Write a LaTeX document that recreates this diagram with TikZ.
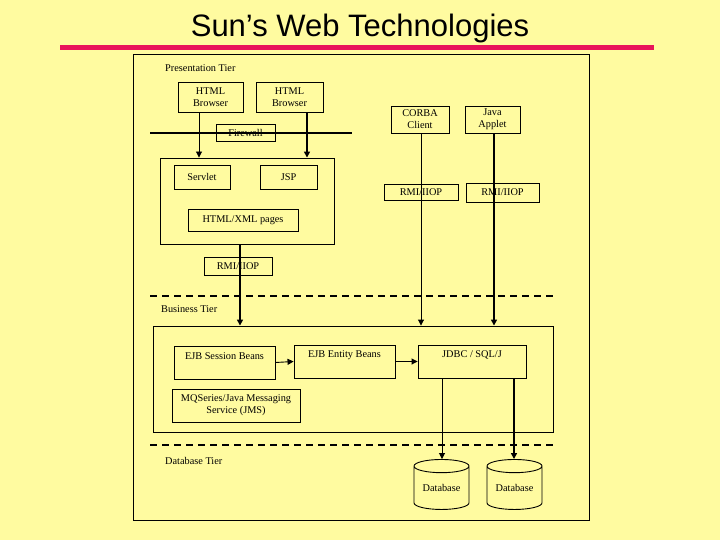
\documentclass[tikz,border=0pt]{standalone}
\usepackage{fontspec}
\setmainfont{Liberation Serif}
\newfontfamily\titlefont{Liberation Sans}
\usetikzlibrary{arrows.meta,shapes.geometric}
\definecolor{bgyellow}{RGB}{255,251,160}
\definecolor{titlered}{RGB}{232,20,90}
\tikzset{
  txt/.style={font=\fontsize{10.3}{12}\selectfont},
  box/.style={draw, line width=0.9pt, inner sep=0pt, align=center, txt},
  lbl/.style={txt, anchor=west, inner sep=0pt},
  toplbl/.style={anchor=north, inner sep=0pt, yshift=-6pt, txt},
  thinarrow/.style={line width=0.9pt, -{Triangle[length=6pt,width=6pt]}},
  thickarrow/.style={line width=1.8pt, -{Triangle[length=6pt,width=6pt]}},
  tierline/.style={line width=1.8pt, dash pattern=on 7pt off 5pt},
  dbcyl/.style={cylinder, shape border rotate=90, draw, line width=0.9pt, aspect=0.35,
    minimum width=55pt, minimum height=50pt, inner sep=0pt, txt}
}
\begin{document}
\begin{tikzpicture}[x=1pt,y=-1pt]
\fill[bgyellow] (0,0) rectangle (720,540);
\useasboundingbox (0,0) rectangle (720,540);
% title
\node (title) [font=\titlefont\fontsize{31}{34}\selectfont] at (360,28) {Sun’s Web Technologies};
\fill[titlered] (60,45) rectangle (654,50);
% outer frame
\draw[line width=0.9pt] (133,54) rectangle (589,520);
% tier labels
\node[lbl] (pt) at (165,68) {Presentation Tier};
\node[lbl] (bt) at (161,309) {Business Tier};
\node[lbl] (dt) at (165,461) {Database Tier};
% presentation tier
\node[box, minimum width=65pt, minimum height=30pt] (b1) at (210.5,97) {HTML\\Browser};
\node[box, minimum width=67pt, minimum height=30pt] (b2) at (289.5,97) {HTML\\Browser};
\node[box, minimum width=59pt, minimum height=17pt] (fw) at (245.5,132.5) {Firewall};
\draw[line width=2.2pt] (150,133) coordinate (fwl) -- (352,133) coordinate (fwr);
\node[box, minimum width=174pt, minimum height=86pt] (big) at (247,201) {};
\node[box, minimum width=56pt, minimum height=24pt] (servlet) at (202,177) {Servlet};
\node[box, minimum width=57pt, minimum height=24pt] (jsp) at (288.5,177) {JSP};
\node[box, minimum width=110pt, minimum height=22pt] (html) at (243,220) {HTML/XML pages};
\node[box, minimum width=68pt, minimum height=18pt] (rmi1) at (238,266) {RMI/IIOP};
\node[box, minimum width=58pt, minimum height=27pt] (corba) at (420,119.5) {CORBA\\Client};
\node[box, minimum width=55pt, minimum height=27pt] (applet) at (492.5,119.5) {Java\\Applet};
\node[box, minimum width=74pt, minimum height=16pt] (rmi2) at (421,192) {RMI/IIOP};
\node[box, minimum width=73pt, minimum height=19pt] (rmi3) at (502.5,192.5) {RMI/IIOP};
% tier separators
\draw[tierline] (150,296) coordinate (s1l) -- (557,296) coordinate (s1r);
\draw[tierline] (150,445) coordinate (s2l) -- (557,445) coordinate (s2r);
% business tier
\node[box, minimum width=400pt, minimum height=106pt] (biz) at (353,379) {};
\node[box, minimum width=101pt, minimum height=33pt,
  label={[toplbl, yshift=-1pt]north:EJB Session Beans}] (sess) at (224.5,362.5) {};
\node[box, minimum width=101pt, minimum height=33pt,
  label={[toplbl]north:EJB Entity Beans}] (ent) at (344.5,361.5) {};
\node[box, minimum width=108pt, minimum height=33pt,
  label={[toplbl]north:JDBC / SQL/J}] (jdbc) at (472,361.5) {};
\node[box, minimum width=128pt, minimum height=33pt] (mq) at (236,405.5) {MQSeries/Java Messaging\\Service (JMS)};
% database tier
\node[dbcyl] (db1) at (441.5,488) {Database};
\node[dbcyl] (db2) at (514.5,488) {Database};
% connectors
\coordinate (x199) at (199,0);
\coordinate (x307) at (307,0);
\coordinate (x240) at (240,0);
\coordinate (x421) at (421,0);
\coordinate (x494) at (494,0);
\coordinate (x442) at (442,0);
\coordinate (x514) at (514,0);
\draw[thinarrow] (b1.south -| x199) -- (big.north -| x199);
\draw[thickarrow] (b2.south -| x307) -- (big.north -| x307);
\draw[thickarrow] (big.south -| x240) -- (biz.north -| x240);
\draw[thinarrow] (corba.south -| x421) -- (biz.north -| x421);
\draw[thickarrow] (applet.south -| x494) -- (biz.north -| x494);
\draw[thinarrow] (sess.east) -- (ent.west);
\draw[thinarrow] (ent.east) -- (jdbc.west);
\draw[thinarrow] (jdbc.south -| x442) -- (db1.top -| x442);
\draw[thickarrow] (jdbc.south -| x514) -- (db2.top -| x514);
\end{tikzpicture}
\end{document}
